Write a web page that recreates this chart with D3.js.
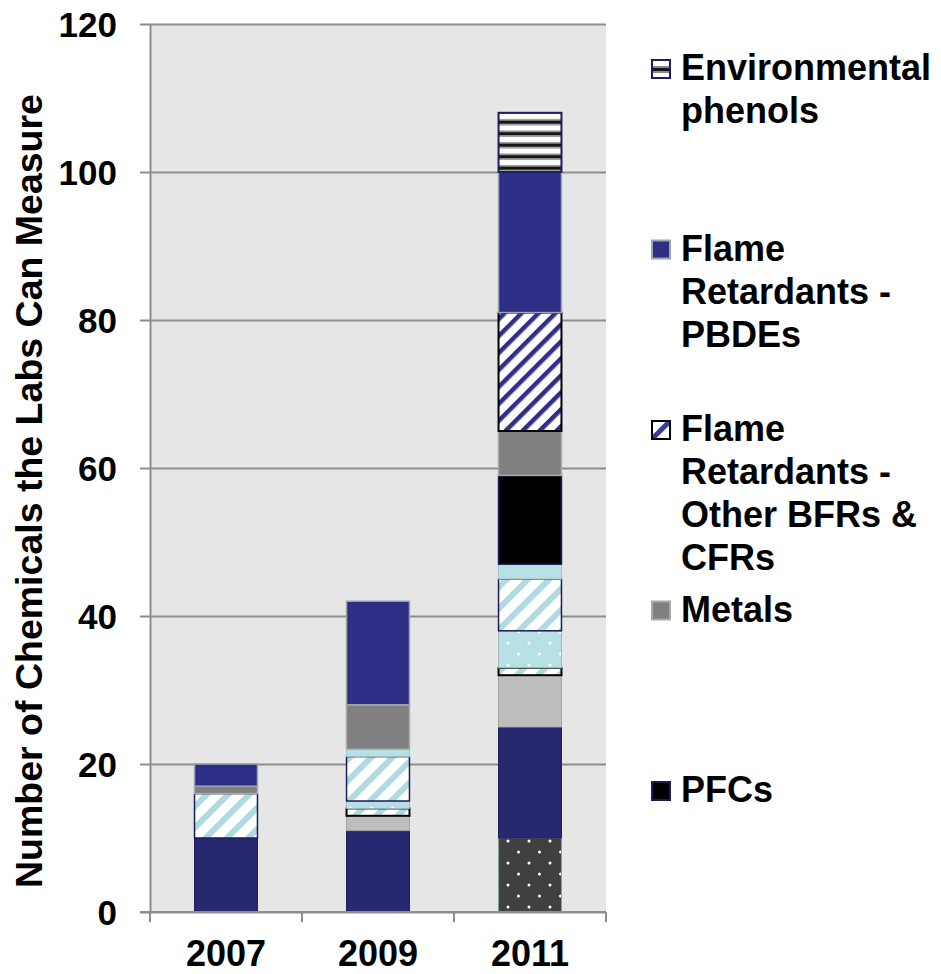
<!DOCTYPE html>
<html>
<head>
<meta charset="utf-8">
<script src="https://cdn.jsdelivr.net/npm/d3@7"></script>
<style>
  html, body { margin: 0; padding: 0; background: #ffffff; }
  svg { display: block; }
  text { font-family: "Liberation Sans", Arial, sans-serif; font-weight: bold; fill: #000; }
</style>
</head>
<body>
<svg id="chart" width="941" height="974"></svg>
<script>
// Survey years on the x axis
const years = ["2007", "2009", "2011"];

// Chemical groups, listed from the bottom of each stack to the top
const groups = [
  "Group A", "Group B", "Group C", "Group D", "Group E", "Group F", "Group G",
  "PFCs", "Metals",
  "Flame Retardants - Other BFRs & CFRs",
  "Flame Retardants - PBDEs",
  "Environmental phenols"
];

// Number of chemicals per group, one value per year (2007, 2009, 2011)
const groupA = [0, 0, 10];
const groupB = [10, 11, 15];
const groupC = [0, 2, 7];
const groupD = [0, 1, 1];
const groupE = [0, 1, 5];
const groupF = [6, 6, 7];
const groupG = [0, 1, 2];
const pfcs = [0, 0, 12];
const metals = [1, 6, 6];
const frOther = [0, 0, 16];
const frPBDEs = [3, 14, 19];
const envPhenols = [0, 0, 8];

const seriesValues = [groupA, groupB, groupC, groupD, groupE, groupF, groupG,
                      pfcs, metals, frOther, frPBDEs, envPhenols];

// Legend entries (top of the stack first), each broken into its text lines
const legendGroups = ["Environmental phenols", "Flame Retardants - PBDEs",
  "Flame Retardants - Other BFRs & CFRs", "Metals", "PFCs"];
const legendLines = [
  ["Environmental", "phenols"],
  ["Flame", "Retardants -", "PBDEs"],
  ["Flame", "Retardants -", "Other BFRs &", "CFRs"],
  ["Metals"],
  ["PFCs"]
];

const yTicks = [0, 20, 40, 60, 80, 100, 120];
const yTitle = "Number of Chemicals the Labs Can Measure";

// Fill and outline for each group
const styles = {
  "Group A": { fill: "url(#dotsDark)", stroke: "#8b9b9c", sw: 1 },
  "Group B": { fill: "#282870", stroke: "#1d1d5c", sw: 1 },
  "Group C": { fill: "#bebebe", stroke: "#a3a3a3", sw: 1 },
  "Group D": { fill: "url(#hatchTeal)", stroke: "#000000", sw: 2 },
  "Group E": { fill: "url(#dotsTeal)", stroke: "#a3bcbf", sw: 1 },
  "Group F": { fill: "url(#hatchTeal)", stroke: "#1d1d5c", sw: 1.5 },
  "Group G": { fill: "#b8e0e4", stroke: "#a6c4c8", sw: 1 },
  "PFCs": { fill: "#000000", stroke: "#1d1d5c", sw: 1.5 },
  "Metals": { fill: "#808080", stroke: "#a9a9a9", sw: 1.5 },
  "Flame Retardants - Other BFRs & CFRs": { fill: "url(#hatchBlue)", stroke: "#000000", sw: 2 },
  "Flame Retardants - PBDEs": { fill: "#2e2e87", stroke: "#9aa8ab", sw: 1.5 },
  "Environmental phenols": { fill: "url(#hStripes)", stroke: "#1d1d66", sw: 2 }
};

// Legend swatches that differ from the bar fill
const legendFill = {
  "Environmental phenols": "url(#legStripe)",
  "Flame Retardants - Other BFRs & CFRs": "url(#legHatch)"
};

// Table of rows for d3.stack
const rows = years.map((yr, i) => {
  const r = { year: yr };
  groups.forEach((g, k) => { r[g] = seriesValues[k][i]; });
  return r;
});

const svg = d3.select("#chart");
const plot = { left: 150, right: 606, top: 24, bottom: 912 };

const x = d3.scaleBand().domain(years)
  .range([plot.left, plot.right])
  .paddingInner(0.586).paddingOuter(0.293);
const y = d3.scaleLinear().domain([0, 120]).range([plot.bottom, plot.top]);

// Pattern fills
const defs = svg.append("defs");

function dots(id, bg) {
  const p = defs.append("pattern").attr("id", id)
    .attr("patternUnits", "userSpaceOnUse").attr("width", 21).attr("height", 22);
  p.append("rect").attr("width", 21).attr("height", 22).attr("fill", bg);
  p.append("circle").attr("cx", 4).attr("cy", 5).attr("r", 1.5).attr("fill", "#ffffff");
  p.append("circle").attr("cx", 14.5).attr("cy", 16).attr("r", 1.5).attr("fill", "#ffffff");
}
dots("dotsDark", "#404040");
dots("dotsTeal", "#b7e0e4");

function hatch(id, period, stripeW, color) {
  const p = defs.append("pattern").attr("id", id)
    .attr("patternUnits", "userSpaceOnUse").attr("width", period).attr("height", period)
    .attr("patternTransform", "rotate(45)");
  p.append("rect").attr("width", period).attr("height", period).attr("fill", "#ffffff");
  p.append("rect").attr("width", stripeW).attr("height", period).attr("fill", color);
}
hatch("hatchTeal", 15, 6, "#afdbe0");
hatch("hatchBlue", 12, 4.5, "#2e2e8c");

const hs = defs.append("pattern").attr("id", "hStripes")
  .attr("patternUnits", "userSpaceOnUse").attr("width", 10).attr("height", 11.5)
  .attr("y", plot.top);
hs.append("rect").attr("width", 10).attr("height", 11.5).attr("fill", "#ffffff");
hs.append("rect").attr("y", 3).attr("width", 10).attr("height", 1.5).attr("fill", "#9a9a9a");
hs.append("rect").attr("y", 4.5).attr("width", 10).attr("height", 3.5).attr("fill", "#151515");
hs.append("rect").attr("y", 8).attr("width", 10).attr("height", 1.5).attr("fill", "#9a9a9a");

// Legend swatch patterns
const ls = defs.append("pattern").attr("id", "legStripe")
  .attr("patternUnits", "objectBoundingBox").attr("width", 1).attr("height", 1);
ls.append("rect").attr("width", 18).attr("height", 18).attr("fill", "#ffffff");
ls.append("rect").attr("y", 6).attr("width", 18).attr("height", 2).attr("fill", "#8a8a8a");
ls.append("rect").attr("y", 8).attr("width", 18).attr("height", 3).attr("fill", "#151515");
ls.append("rect").attr("y", 11).attr("width", 18).attr("height", 2).attr("fill", "#8a8a8a");

const lh = defs.append("pattern").attr("id", "legHatch")
  .attr("patternUnits", "objectBoundingBox").attr("width", 1).attr("height", 1);
lh.append("rect").attr("width", 18).attr("height", 18).attr("fill", "#ffffff");
lh.append("line").attr("x1", 0).attr("y1", 18).attr("x2", 18).attr("y2", 0)
  .attr("stroke", "#3a3aa0").attr("stroke-width", 5);

// Plot background
svg.append("rect")
  .attr("x", plot.left).attr("y", plot.top)
  .attr("width", plot.right - plot.left).attr("height", plot.bottom - plot.top)
  .attr("fill", "#e6e6e6");

// Horizontal gridlines with outward ticks
const yAxis = d3.axisLeft(y).tickValues(yTicks)
  .tickSize(-(plot.right - plot.left)).tickSizeOuter(0).tickPadding(33);
const gy = svg.append("g").attr("transform", `translate(${plot.left},0)`).call(yAxis);
gy.select(".domain").attr("stroke", "#8e8e8e").attr("stroke-width", 2);
gy.selectAll(".tick line").attr("stroke", "#8e8e8e").attr("stroke-width", 2).attr("x1", -10);
gy.selectAll(".tick text").style("font-size", "35px")
  .attr("dy", "0.36em");

// Stacked bars
const stack = d3.stack().keys(groups);
const layers = stack(rows);

svg.append("g").selectAll("g")
  .data(layers)
  .join("g")
  .each(function (layer) {
    const st = styles[layer.key];
    d3.select(this).selectAll("rect")
      .data(layer.filter(d => d[1] - d[0] > 0))
      .join("rect")
      .attr("x", d => x(d.data.year))
      .attr("width", x.bandwidth())
      .attr("y", d => y(d[1]))
      .attr("height", d => y(d[0]) - y(d[1]))
      .attr("fill", st.fill)
      .attr("stroke", st.stroke)
      .attr("stroke-width", st.sw);
  });

// X axis with ticks between categories
const xAxisG = svg.append("g");
xAxisG.append("line")
  .attr("x1", plot.left - 10).attr("x2", plot.right)
  .attr("y1", y(0)).attr("y2", y(0))
  .attr("stroke", "#8e8e8e").attr("stroke-width", 2);
const step = x.step();
const firstCenter = x(years[0]) + x.bandwidth() / 2;
const bounds = d3.range(years.length + 1).map(i => firstCenter - step / 2 + i * step);
xAxisG.selectAll("line.tk").data(bounds).join("line").attr("class", "tk")
  .attr("x1", d => d).attr("x2", d => d)
  .attr("y1", y(0)).attr("y2", y(0) + 10)
  .attr("stroke", "#8e8e8e").attr("stroke-width", 2);
xAxisG.selectAll("text").data(years).join("text")
  .attr("x", d => x(d) + x.bandwidth() / 2)
  .attr("y", 966)
  .attr("text-anchor", "middle")
  .style("font-size", "36px")
  .text(d => d);

// Y axis title
svg.append("text")
  .attr("transform", "translate(42,491) rotate(-90)")
  .attr("text-anchor", "middle")
  .style("font-size", "37.5px")
  .text(yTitle);

// Legend
const leg = svg.append("g");
legendGroups.forEach((g, i) => {
  const base = 80 + i * 180.5;
  const st = styles[g];
  leg.append("rect")
    .attr("x", 652).attr("y", base - 20)
    .attr("width", 18).attr("height", 18)
    .attr("fill", legendFill[g] || st.fill)
    .attr("stroke", st.stroke).attr("stroke-width", 2);
  const t = leg.append("text").attr("x", 681).attr("y", base).style("font-size", "36px");
  legendLines[i].forEach((ln, j) => {
    t.append("tspan").attr("x", 681).attr("y", base + j * 43).text(ln);
  });
});
</script>
</body>
</html>
